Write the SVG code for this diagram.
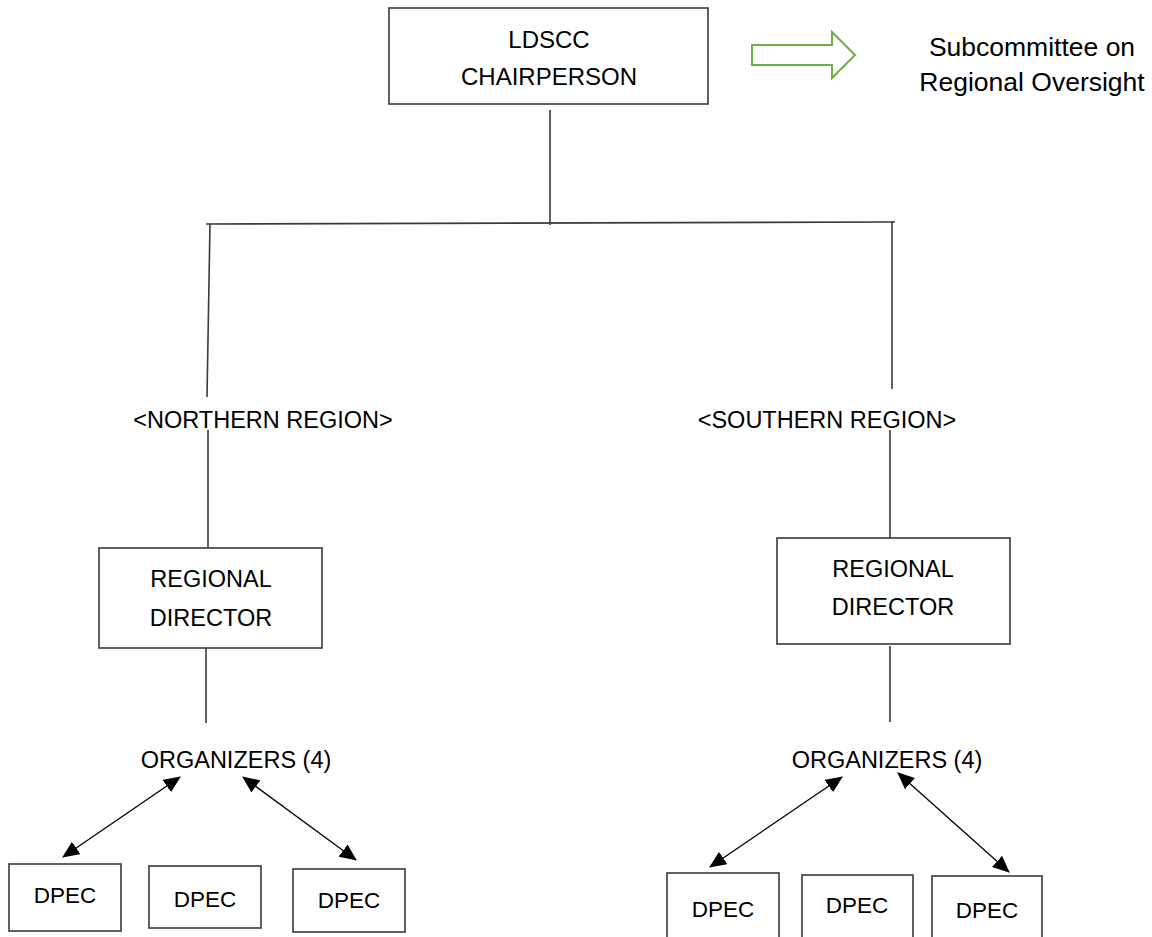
<svg xmlns="http://www.w3.org/2000/svg" width="1152" height="937" viewBox="0 0 1152 937">
<style>
.box{fill:#fff;stroke:#3a3a3a;stroke-width:1.6}
.ln{fill:none;stroke:#3a3a3a;stroke-width:1.6}
.ar{fill:none;stroke:#000;stroke-width:1.3}
text{font-family:"Liberation Sans",Arial,sans-serif;font-size:23.5px;fill:#000;text-anchor:middle}
.d{font-size:22.5px}
.s{font-size:26.5px}
.t{font-size:24px}
</style>
<defs>
<marker id="ah" viewBox="0 0 17 15" refX="16" refY="7.5" markerWidth="17" markerHeight="15" markerUnits="userSpaceOnUse" orient="auto-start-reverse">
<path d="M0,0 L17,7.5 L0,15 z" fill="#000"/>
</marker>
</defs>
<rect width="1152" height="937" fill="#fff"/>
<g id="connectors">
<line class="ln" x1="550" y1="110" x2="550" y2="225"/>
<line class="ln" x1="206" y1="224" x2="895" y2="222"/>
<line class="ln" x1="210" y1="224" x2="207" y2="397"/>
<line class="ln" x1="892" y1="221" x2="892" y2="389"/>
<line class="ln" x1="208" y1="430" x2="208" y2="548"/>
<line class="ln" x1="890" y1="430" x2="890" y2="538"/>
<line class="ln" x1="206" y1="648" x2="206" y2="723"/>
<line class="ln" x1="890" y1="646" x2="890" y2="722"/>
<line class="ar" x1="180" y1="777" x2="63" y2="857" marker-start="url(#ah)" marker-end="url(#ah)"/>
<line class="ar" x1="243" y1="777" x2="356" y2="860" marker-start="url(#ah)" marker-end="url(#ah)"/>
<line class="ar" x1="842" y1="777" x2="710" y2="867" marker-start="url(#ah)" marker-end="url(#ah)"/>
<line class="ar" x1="898" y1="773" x2="1009" y2="872" marker-start="url(#ah)" marker-end="url(#ah)"/>
</g>
<g id="chair">
<rect class="box" x="389" y="8" width="319" height="96"/>
<text class="t" x="549" y="48">LDSCC</text>
<text class="t" x="549" y="85">CHAIRPERSON</text>
</g>
<g id="subcommittee-arrow">
<polygon points="752,45 832,45 832,32 855,55 832,78 832,65 752,65" fill="#fff" stroke="#70AD47" stroke-width="2"/>
</g>
<g id="subcommittee">
<text class="s" x="1032" y="56">Subcommittee on</text>
<text class="s" x="1032" y="91">Regional Oversight</text>
</g>
<g id="northern-region"><text x="263" y="428">&lt;NORTHERN REGION&gt;</text></g>
<g id="southern-region"><text x="827" y="428">&lt;SOUTHERN REGION&gt;</text></g>
<g id="north-director">
<rect class="box" x="99" y="548" width="223" height="100"/>
<text x="211" y="587">REGIONAL</text>
<text x="211" y="626">DIRECTOR</text>
</g>
<g id="south-director">
<rect class="box" x="777" y="538" width="233" height="106"/>
<text x="893" y="577">REGIONAL</text>
<text x="893" y="615">DIRECTOR</text>
</g>
<g id="north-organizers"><text x="236" y="768">ORGANIZERS (4)</text></g>
<g id="south-organizers"><text x="887" y="768">ORGANIZERS (4)</text></g>
<g id="n-dpec1"><rect class="box" x="9" y="864" width="112" height="67"/><text class="d" x="65" y="903">DPEC</text></g>
<g id="n-dpec2"><rect class="box" x="149" y="866" width="112" height="62"/><text class="d" x="205" y="907">DPEC</text></g>
<g id="n-dpec3"><rect class="box" x="293" y="869" width="112" height="63"/><text class="d" x="349" y="908">DPEC</text></g>
<g id="s-dpec1"><rect class="box" x="667" y="873" width="112" height="70"/><text class="d" x="723" y="917">DPEC</text></g>
<g id="s-dpec2"><rect class="box" x="802" y="875" width="111" height="70"/><text class="d" x="857" y="913">DPEC</text></g>
<g id="s-dpec3"><rect class="box" x="932" y="876" width="110" height="70"/><text class="d" x="987" y="918">DPEC</text></g>
</svg>
